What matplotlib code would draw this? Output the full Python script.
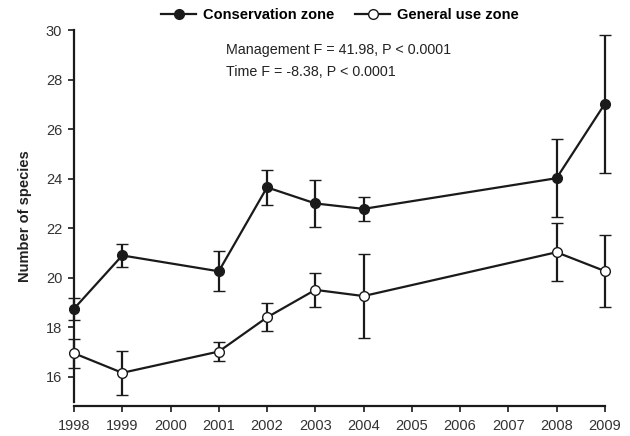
import matplotlib
matplotlib.use("Agg")
import matplotlib.pyplot as plt
from matplotlib.lines import Line2D

plt.rcParams['font.family'] = ['Liberation Sans', 'DejaVu Sans']

years = [1998, 1999, 2001, 2002, 2003, 2004, 2008, 2009]
cons_mean = [18.75, 20.9, 20.26, 23.65, 23.0, 22.78, 24.02, 27.02]
cons_err = [0.45, 0.45, 0.8, 0.72, 0.96, 0.47, 1.58, 2.8]
gen_mean = [16.95, 16.16, 17.02, 18.4, 19.51, 19.26, 21.03, 20.27]
gen_err = [0.58, 0.9, 0.37, 0.57, 0.7, 1.7, 1.16, 1.44]
xticks = list(range(1998, 2010))
yticks = list(range(16, 31, 2))

fig = plt.figure(figsize=(6.3, 4.36), dpi=100)
ax = fig.add_axes([0.1175, 0.079, 0.8425, 0.852])

col = '#1a1a1a'
for mean, err, face in [(cons_mean, cons_err, col), (gen_mean, gen_err, 'white')]:
    cont = ax.errorbar(years, mean, yerr=err, color=col, marker='o', ms=7,
                       mfc=face, mec=col, mew=1.0, lw=1.6, elinewidth=1.6,
                       capsize=4.5, capthick=1.6, zorder=3)
    for art in cont.get_children():
        art.set_clip_on(False)

ax.set_xlim(1998, 2009)
ax.set_ylim(15, 30)
ax.set_xticks(xticks)
ax.set_yticks(yticks)
for s in ['top', 'right']:
    ax.spines[s].set_visible(False)
for s in ['left', 'bottom']:
    ax.spines[s].set_linewidth(1.6)
    ax.spines[s].set_color(col)
ax.spines['bottom'].set_position(('outward', 3))
ax.tick_params(direction='out', length=4.5, width=1.2, colors=col,
               labelcolor='#333333', labelsize=10.5, pad=4)
ax.tick_params(axis='x', pad=5)
ax.set_ylabel('Number of species', fontsize=10.5, fontweight='bold',
              color='#222222', labelpad=10)

ax.text(0.286, 0.946, 'Management F = 41.98, P < 0.0001', transform=ax.transAxes,
        fontsize=10.3, color='#222222', va='center')
ax.text(0.286, 0.887, 'Time F = -8.38, P < 0.0001', transform=ax.transAxes,
        fontsize=10.3, color='#222222', va='center')

h1 = Line2D([], [], color=col, marker='o', ms=7, mfc=col, lw=1.6)
h2 = Line2D([], [], color=col, marker='o', ms=7, mfc='white', lw=1.6)
fig.legend([h1, h2], ['Conservation zone', 'General use zone'], loc='upper center',
           bbox_to_anchor=(0.54, 1.012), ncol=2, frameon=False, handlelength=2.4,
           columnspacing=1.4, handletextpad=0.5, prop={'weight': 'bold', 'size': 10.5})

fig.savefig('out.png', dpi=100)
